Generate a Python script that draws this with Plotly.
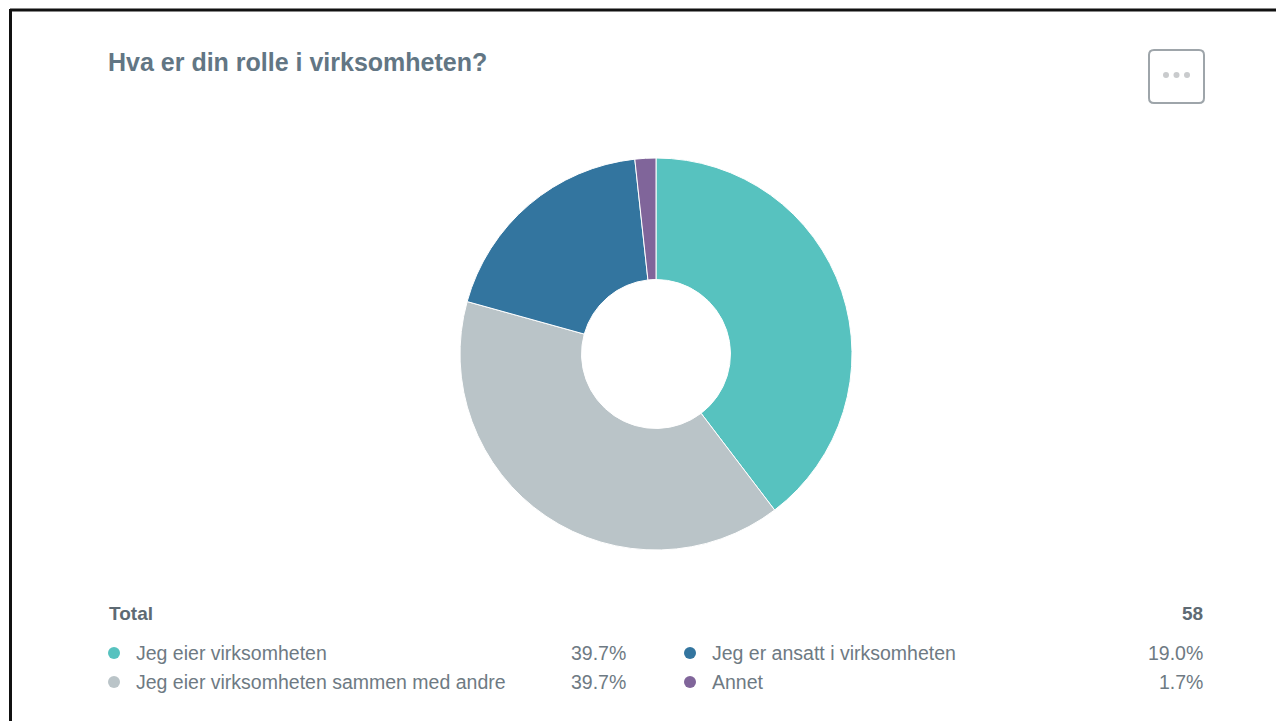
import plotly.graph_objects as go

# The page body has an 8px margin, so the figure is drawn 8px in from the top-left.
OFF = 8
W, H = 1284 - OFF, 721 - OFF

title = "Hva er din rolle i virksomheten?"
labels = ["Jeg eier virksomheten", "Jeg eier virksomheten sammen med andre",
          "Jeg er ansatt i virksomheten", "Annet"]
counts = [23, 23, 11, 1]
colors = ["#57C2BF", "#BAC4C8", "#33759F", "#80659A"]
total_label = "Total"

total = sum(counts)
pcts = [c / total * 100 for c in counts]

def px(x):
    return (x - OFF) / W

def py(y):
    return 1 - (y - OFF) / H

FONT = "Liberation Sans, Arial, sans-serif"
TEXT = "#6E7A83"

fig = go.Figure()
fig.add_trace(go.Pie(
    labels=labels, values=counts, hole=0.38, sort=False, direction="clockwise",
    rotation=0, marker=dict(colors=colors, line=dict(color="white", width=1)),
    textinfo="none", hoverinfo="label+percent", showlegend=False,
    domain=dict(x=[px(460), px(852)], y=[py(550), py(158)]),
))

ann = []
shapes = []
ann.append(dict(x=px(106), y=py(62), text=f"<b>{title}</b>", showarrow=False,
                xanchor="left", yanchor="middle", xref="paper", yref="paper",
                font=dict(family=FONT, size=25, color="#627684")))
ann.append(dict(x=px(107), y=py(613), text=f"<b>{total_label}</b>", showarrow=False,
                xanchor="left", yanchor="middle", xref="paper", yref="paper",
                font=dict(family=FONT, size=19, color="#5E6A73")))
ann.append(dict(x=px(1205), y=py(613), text=f"<b>{total}</b>", showarrow=False,
                xanchor="right", yanchor="middle", xref="paper", yref="paper",
                font=dict(family=FONT, size=19, color="#5E6A73")))

# legend grid: column-major (2 rows)
cols_x = [(114, 134, 628), (690, 710, 1205)]
rows_y = [653, 682]
for i, (lab, p, c) in enumerate(zip(labels, pcts, colors)):
    col = 0 if i in (0, 1) else 1
    row = i % 2
    dx, lx, rx = cols_x[col]
    yy = rows_y[row]
    shapes.append(dict(type="circle", xref="paper", yref="paper",
                       x0=px(dx - 6), x1=px(dx + 6), y0=py(yy + 6), y1=py(yy - 6),
                       fillcolor=c, line=dict(width=0)))
    ann.append(dict(x=px(lx), y=py(yy), text=lab, showarrow=False,
                    xanchor="left", yanchor="middle", xref="paper", yref="paper",
                    font=dict(family=FONT, size=19.5, color=TEXT)))
    ann.append(dict(x=px(rx), y=py(yy), text=f"{p:.1f}%", showarrow=False,
                    xanchor="right", yanchor="middle", xref="paper", yref="paper",
                    font=dict(family=FONT, size=19.5, color=TEXT)))

# outer black frame (top and left)
shapes.append(dict(type="line", xref="paper", yref="paper", x0=px(10), x1=1.0,
                   y0=py(10), y1=py(10), line=dict(color="#111111", width=3)))
shapes.append(dict(type="line", xref="paper", yref="paper", x0=px(10.5), x1=px(10.5),
                   y0=py(9), y1=0, line=dict(color="#111111", width=3)))

# "..." menu button (rounded square)
x0, x1, y0, y1, r = 1149, 1204, 50, 103, 5
path = (f"M {px(x0 + r)},{py(y0)} L {px(x1 - r)},{py(y0)} "
        f"Q {px(x1)},{py(y0)} {px(x1)},{py(y0 + r)} L {px(x1)},{py(y1 - r)} "
        f"Q {px(x1)},{py(y1)} {px(x1 - r)},{py(y1)} L {px(x0 + r)},{py(y1)} "
        f"Q {px(x0)},{py(y1)} {px(x0)},{py(y1 - r)} L {px(x0)},{py(y0 + r)} "
        f"Q {px(x0)},{py(y0)} {px(x0 + r)},{py(y0)} Z")
shapes.append(dict(type="path", xref="paper", yref="paper", path=path,
                   line=dict(color="#9EA5AA", width=2), fillcolor="white"))
for cx in (1166, 1176.5, 1187):
    shapes.append(dict(type="circle", xref="paper", yref="paper",
                       x0=px(cx - 3), x1=px(cx + 3), y0=py(75 + 3), y1=py(75 - 3),
                       fillcolor="#C9CBCD", line=dict(width=0)))

fig.update_layout(
    width=W, height=H, margin=dict(l=0, r=0, t=0, b=0),
    paper_bgcolor="white", plot_bgcolor="white",
    annotations=ann, shapes=shapes, showlegend=False,
)
fig.write_html("out.html")
